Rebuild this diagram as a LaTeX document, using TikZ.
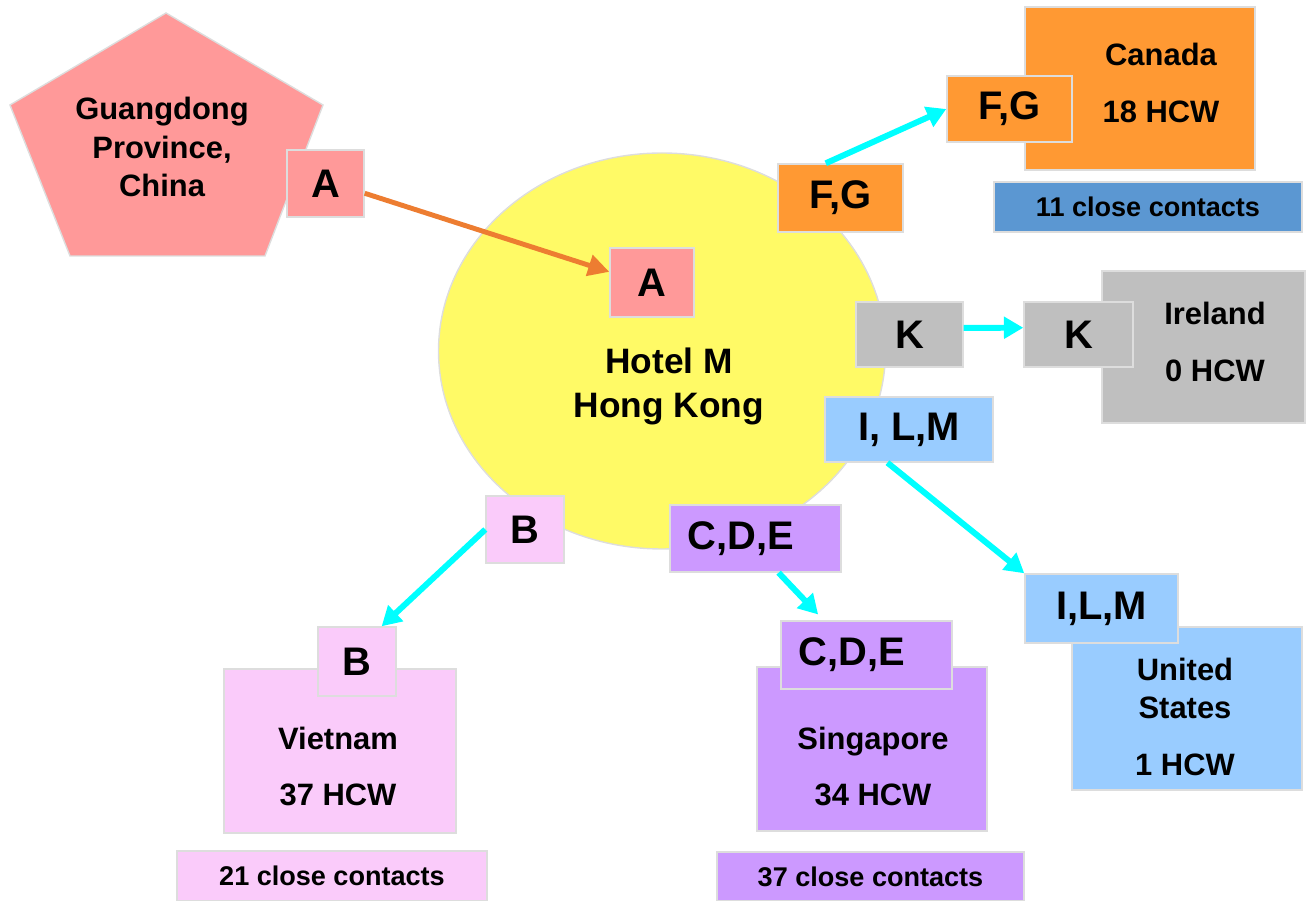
\documentclass[tikz,border=0pt]{standalone}
\usepackage{fontspec}
\setmainfont{Liberation Sans}
\usepackage{tikz}
\usetikzlibrary{shapes.geometric,arrows.meta}

\definecolor{gdpink}{HTML}{FF9999}
\definecolor{hotelyellow}{HTML}{FFFA66}
\definecolor{canorange}{HTML}{FF9933}
\definecolor{canblue}{HTML}{5B97D2}
\definecolor{iregray}{HTML}{BFBFBF}
\definecolor{usblue}{HTML}{99CCFF}
\definecolor{vnpink}{HTML}{FACBFA}
\definecolor{sgpurple}{HTML}{CC99FF}
\definecolor{edgegray}{HTML}{DDDDDD}
\definecolor{arrowcyan}{HTML}{00FFFF}
\definecolor{arroworange}{HTML}{ED7D31}

\newlength{\pix}
\setlength{\pix}{0.02cm}

\begin{document}
\begin{tikzpicture}[x=0.02cm, y=-0.02cm,
    box/.style={draw=edgegray, line width=0.8pt, inner sep=0pt},
    tag/.style={box, font=\fontsize{22.7}{27}\selectfont\bfseries},
    contacts/.style={box, font=\fontsize{15.4}{18}\selectfont\bfseries},
    place/.style={align=center, inner sep=0pt, font=\fontsize{17.6}{32.3}\selectfont\bfseries},
    spread/.style={-{Triangle[length=11pt,width=12pt]}, line width=3.4pt, arrowcyan}]
    \useasboundingbox (0,0) rectangle (1306,901);

    \node (hotelDisc) at (662,351) [ellipse, box, fill=hotelyellow, minimum width=447\pix, minimum height=396\pix] {};
    \node (hotel) at (669,386.5) [place, font=\fontsize{20.1}{24.7}\selectfont\bfseries] {Hotel M\\Hong Kong};

    \draw[draw=edgegray, line width=0.8pt, fill=gdpink] (166,13) -- (323,105) -- (265,256) -- (70,256) -- (10,105) -- cycle;
    \node (guangdong) at (162,147) [place, font=\fontsize{17.6}{22.1}\selectfont\bfseries] {Guangdong\\Province,\\China};

    \node (aSrc) at (325.5,183.5) [tag, fill=gdpink, minimum width=77\pix, minimum height=67\pix] {A};
    \node (aHot) at (652,282.5) [tag, fill=gdpink, minimum width=84\pix, minimum height=69\pix] {A};

    \node (fgSrc) at (840.5,198) [tag, fill=canorange, minimum width=125\pix, minimum height=68\pix] {F,G};
    \node (canBox) at (1140,88.5) [box, fill=canorange, minimum width=230\pix, minimum height=163\pix] {};
    \node (canada) at (1161,83) [place] {Canada\\18 HCW};
    \node (fgCan) at (1009.5,109) [tag, fill=canorange, minimum width=125\pix, minimum height=66\pix] {F,G};
    \node (canContacts) at (1148,207) [contacts, fill=canblue, minimum width=308\pix, minimum height=50\pix] {11 close contacts};

    \node (kSrc) at (909.5,334.5) [tag, fill=iregray, minimum width=107\pix, minimum height=65\pix] {K};
    \node (ireBox) at (1203.5,347) [box, fill=iregray, minimum width=203\pix, minimum height=152\pix] {};
    \node (ireland) at (1215,342) [place] {Ireland\\0 HCW};
    \node (kIre) at (1078.5,334.5) [tag, fill=iregray, minimum width=109\pix, minimum height=65\pix] {K};

    \node (ilmSrc) at (909,429.5) [tag, fill=usblue, minimum width=168\pix, minimum height=65\pix] {I, L,M};
    \node (usBox) at (1187,708.5) [box, fill=usblue, minimum width=230\pix, minimum height=163\pix] {};
    \node (states) at (1185,717) [place] {United\\[-10.8pt]States\\1 HCW};
    \node (ilmUS) at (1101.5,608.5) [tag, fill=usblue, minimum width=153\pix, minimum height=69\pix] {I,L,M};

    \node (bSrc) at (525,529.5) [tag, fill=vnpink, minimum width=78\pix, minimum height=67\pix] {B};
    \node (vnBox) at (340,751) [box, fill=vnpink, minimum width=232\pix, minimum height=164\pix] {};
    \node (vietnam) at (338,766.5) [place] {Vietnam\\37 HCW};
    \node (bViet) at (357,661.5) [tag, fill=vnpink, minimum width=78\pix, minimum height=69\pix] {B};
    \node (vnContacts) at (332,876) [contacts, fill=vnpink, minimum width=310\pix, minimum height=50\pix] {21 close contacts};

    \node (cdeSrc) at (755.5,538.5) [tag, fill=sgpurple, minimum width=171\pix, minimum height=67\pix] {C,D,E\hspace*{17pt}};
    \node (sgBox) at (872,749) [box, fill=sgpurple, minimum width=230\pix, minimum height=164\pix] {};
    \node (singapore) at (873,766.5) [place] {Singapore\\34 HCW};
    \node (cdeSing) at (866.5,655) [tag, fill=sgpurple, minimum width=171\pix, minimum height=68\pix] {C,D,E\hspace*{17pt}};
    \node (sgContacts) at (870.5,876.5) [contacts, fill=sgpurple, minimum width=307\pix, minimum height=49\pix] {37 close contacts};

    \draw[-{Triangle[length=12pt,width=12pt]}, line width=2.8pt, arroworange] (aSrc.-14) -- (aHot.166);
    \draw[spread] (fgSrc.113) -- (fgCan.west);
    \draw[spread] (kSrc.7) -- (kIre.173);
    \draw[spread] (ilmSrc.237) -- (ilmUS.north west);
    \draw[spread] (bSrc.west) -- (bViet.55);
    \draw[spread, shorten >=8\pix] (cdeSrc.304) -- (cdeSing.141);
  \end{tikzpicture}
\end{document}
